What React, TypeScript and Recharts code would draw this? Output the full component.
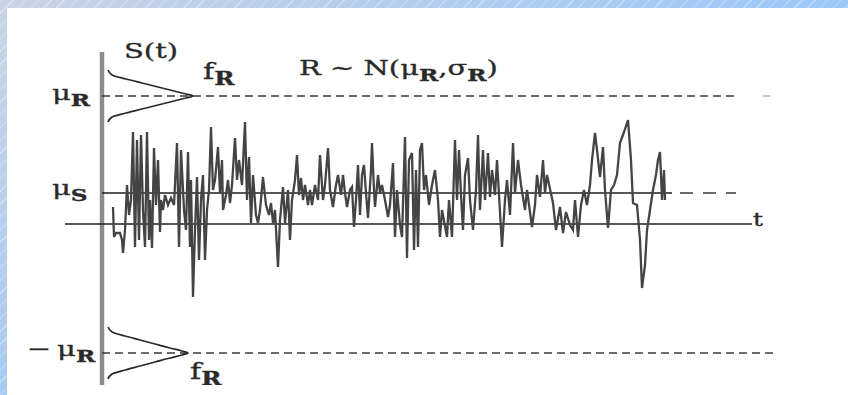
import React from 'react';
import { ComposedChart, Line, XAxis, YAxis, ReferenceLine, Scatter } from 'recharts';

// time (px-like units from the S(t) axis) and signal amplitude
const signalT = [11,12,14,18,20,21,23,25,27,29,31,33,35,37,39,41,43,45,47,48,50,52,54,56,58,59,61,63,66,69,72,75,77,79,82,84,86,88,89,91,93,95,97,99,101,103,105,107,109,111,113,116,118,120,121,124,126,128,130,133,135,137,140,143,145,147,149,151,154,156,158,161,164,167,169,171,173,176,178,181,183,186,188,190,193,195,197,199,201,203,206,208,210,213,216,218,221,223,226,228,231,234,236,239,241,243,245,248,250,252,254,256,258,260,262,264,266,269,270,272,273,276,278,280,283,286,288,291,293,295,298,300,303,305,307,310,312,314,316,318,320,322,324,327,330,333,336,338,340,345,347,350,353,355,357,359,361,363,366,368,371,374,376,378,381,383,386,388,390,393,395,400,403,405,408,411,413,416,419,423,425,430,433,435,438,441,443,445,451,454,458,461,464,468,471,473,476,479,482,485,488,490,493,495,498,501,503,506,509,512,515,518,522,526,529,531,535,538,540,543,545,548,551,554,556,558,560,562,563];
const signalV = [17,-13,-9,-9,-16,-29,-6,39,9,24,92,-23,84,-16,89,14,-23,92,-16,24,-24,76,19,64,-8,24,14,29,19,26,19,81,-23,74,14,-6,72,-23,44,-73,-6,47,-36,24,49,-36,14,34,97,34,44,77,31,64,14,29,44,21,39,86,44,64,39,102,24,67,1,49,9,1,14,47,19,9,21,1,14,-43,4,37,1,34,-16,24,44,69,29,46,24,39,19,34,19,39,24,69,24,39,76,34,17,39,49,29,49,31,17,34,37,-3,24,59,9,49,59,31,6,54,81,34,17,49,31,39,24,7,19,61,-13,34,-1,-13,87,-34,64,71,-26,54,-23,74,81,34,49,19,39,54,24,-13,14,-13,24,-13,84,24,74,29,-6,49,66,24,-6,34,89,14,74,24,71,27,54,29,64,-23,24,44,9,81,31,64,39,14,34,-3,19,49,27,64,31,49,21,-6,17,-9,12,-1,-6,24,-13,19,34,19,39,64,91,74,47,77,34,-4,34,39,49,81,92,104,64,21,19,-16,-64,-41,-6,14,34,49,64,72,24,54,24];

// reference levels
const muR = 128;
const muS = 31;
const negMuR = -129;

// density curve f_R: half-height spread vs. horizontal extent
const fSpread = [26, 21, 17, 13, 9, 5, 2, 0];
const fWidthTop = [6, 10, 24, 40, 56, 72, 84, 91];
const fWidthBottom = [6, 10, 23, 38, 53, 68, 80, 86];

const buildCurve = (center: number, widths: number[]) => {
  const upper = fSpread.map((s, i) => ({ t: widths[i], v: center + s }));
  const lower = fSpread
    .map((s, i) => ({ t: widths[i], v: center - s }))
    .reverse()
    .slice(1);
  return [...upper, ...lower];
};

const signalData = signalT.map((t, i) => ({ t, v: signalV[i] }));
const topCurve = buildCurve(muR, fWidthTop);
const bottomCurve = buildCurve(negMuR, fWidthBottom);

type Seg = { s: string; sub?: boolean };
const labels: { t: number; v: number; size: number; parts: Seg[] }[] = [
  { t: 22, v: 166, size: 21, parts: [{ s: 'S(t)' }] },
  { t: 101, v: 145, size: 22, parts: [{ s: 'f' }, { s: 'R', sub: true }] },
  { t: 197, v: 149, size: 21, parts: [{ s: 'R ~ N(μ' }, { s: 'R', sub: true }, { s: ',σ' }, { s: 'R', sub: true }, { s: ')' }] },
  { t: -50, v: 124, size: 21, parts: [{ s: 'μ' }, { s: 'R', sub: true }] },
  { t: -50, v: 29, size: 21, parts: [{ s: 'μ' }, { s: 'S', sub: true }] },
  { t: -75, v: -132, size: 21, parts: [{ s: '−\u2009μ' }, { s: 'R', sub: true }] },
  { t: 88, v: -155, size: 22, parts: [{ s: 'f' }, { s: 'R', sub: true }] },
  { t: 651, v: -2, size: 18, parts: [{ s: 't' }] },
];

const LabelShape = (props: any) => {
  const { cx, cy, payload } = props;
  if (cx == null || cy == null) return null;
  const parts: Seg[] = payload.parts;
  const size: number = payload.size;
  const out: React.ReactNode[] = [];
  let shifted = false;
  parts.forEach((p, i) => {
    let dy = 0;
    if (p.sub && !shifted) { dy = 6; shifted = true; }
    else if (!p.sub && shifted) { dy = -6; shifted = false; }
    out.push(
      <tspan key={i} dy={dy} fontSize={p.sub ? size * 0.8 : size} fontWeight={p.sub ? 700 : 400}>
        {p.s}
      </tspan>
    );
  });
  return (
    <text
      x={0}
      y={0}
      transform={`translate(${cx},${cy}) scale(1.38,1)`}
      fill="#2a2a2a"
      stroke="#2a2a2a"
      strokeWidth={0.35}
      fontFamily="'DejaVu Serif', 'Liberation Serif', serif"
      fontSize={size}
    >
      {out}
    </text>
  );
};

export default function App() {
  return (
    <div style={{ position: 'absolute', left: 0, top: 0, width: 848, height: 395, overflow: 'hidden', background: '#fff' }}>
      <div style={{ position: 'absolute', left: 0, top: 0, width: 848, height: 8,
        background: 'repeating-linear-gradient(135deg, rgba(255,255,255,0.35) 0 1px, transparent 1px 9px), linear-gradient(to right, #c8d4e6, #b3cdee 50%, #9bc9f8)' }} />
      <div style={{ position: 'absolute', left: 0, top: 0, width: 7, height: 395,
        background: 'repeating-linear-gradient(135deg, rgba(255,255,255,0.35) 0 1px, transparent 1px 9px), linear-gradient(to bottom, #c8d4e6, #a9cbf1)' }} />
      <div style={{ position: 'absolute', left: 0, top: 0 }}>
        <ComposedChart width={848} height={395} margin={{ top: 32, right: 66, bottom: 10, left: 7 }}>
          <XAxis dataKey="t" type="number" domain={[-95, 680]} hide allowDataOverflow />
          <YAxis dataKey="v" type="number" domain={[-161, 192]} hide allowDataOverflow />
          <ReferenceLine segment={[{ x: 0, y: -161 }, { x: 0, y: 172 }]} stroke="#8c8c8c" strokeWidth={4.5} />
          <ReferenceLine segment={[{ x: 0, y: muR }, { x: 632, y: muR }]} stroke="#3a3a3a" strokeWidth={1.4} strokeDasharray="8 5" />
          <ReferenceLine segment={[{ x: 661, y: muR }, { x: 668, y: muR }]} stroke="#9a9a9a" strokeWidth={1.2} />
          <ReferenceLine segment={[{ x: 0, y: muS }, { x: 570, y: muS }]} stroke="#1e1e1e" strokeWidth={1.7} />
          <ReferenceLine segment={[{ x: 578, y: muS }, { x: 634, y: muS }]} stroke="#3a3a3a" strokeWidth={1.4} strokeDasharray="13 10" />
          <ReferenceLine segment={[{ x: -37, y: 0 }, { x: 650, y: 0 }]} stroke="#1e1e1e" strokeWidth={1.7} />
          <ReferenceLine segment={[{ x: 0, y: negMuR }, { x: 673, y: negMuR }]} stroke="#3a3a3a" strokeWidth={1.4} strokeDasharray="8 5" />
          <Line data={topCurve} dataKey="v" type="monotoneY" stroke="#2a2a2a" strokeWidth={1.7} dot={false} isAnimationActive={false} />
          <Line data={bottomCurve} dataKey="v" type="monotoneY" stroke="#2a2a2a" strokeWidth={1.7} dot={false} isAnimationActive={false} />
          <Line data={signalData} dataKey="v" type="linear" stroke="#444" strokeWidth={2.3} dot={false} isAnimationActive={false} />
          <Scatter data={labels} dataKey="v" shape={LabelShape} isAnimationActive={false} />
        </ComposedChart>
      </div>
    </div>
  );
}
